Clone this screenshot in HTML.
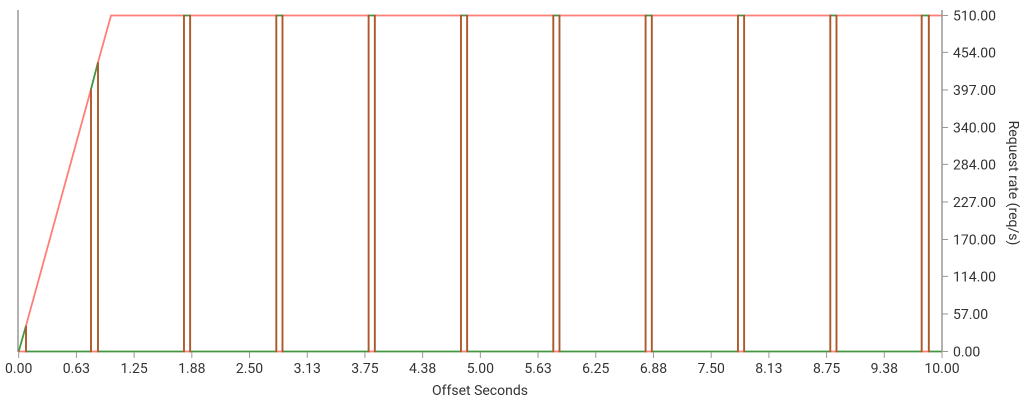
<!DOCTYPE html>
<html><head><meta charset="utf-8"><style>
body{margin:0;background:#fff;}
svg{display:block;font-family:"Roboto","Liberation Sans",sans-serif;}
</style></head><body>
<svg id="c" width="1024" height="400"></svg>
<script>
const xTicks=[0,0.625,1.25,1.875,2.5,3.125,3.75,4.375,5,5.625,6.25,6.875,7.5,8.125,8.75,9.375,10];
const xTickLabels=["0.00","0.63","1.25","1.88","2.50","3.13","3.75","4.38","5.00","5.63","6.25","6.88","7.50","8.13","8.75","9.38","10.00"];
const yTicks=[0,57,114,170,227,284,340,397,454,510];
const yTickLabels=["0.00","57.00","114.00","170.00","227.00","284.00","340.00","397.00","454.00","510.00"];
const redX=[0,0.079,0.079,0.783,0.783,0.859,0.859,1.0,1.79,1.79,1.857,1.857,2.79,2.79,2.857,2.857,3.79,3.79,3.857,3.857,4.79,4.79,4.857,4.857,5.79,5.79,5.857,5.857,6.79,6.79,6.857,6.857,7.79,7.79,7.857,7.857,8.79,8.79,8.857,8.857,9.78,9.78,9.857,9.857,10];
const redY=[0,0,39,398,0,0,439,510,510,0,0,510,510,0,0,510,510,0,0,510,510,0,0,510,510,0,0,510,510,0,0,510,510,0,0,510,510,0,0,510,510,0,0,510,510];
const greenX=[0,0.079,0.079,0.783,0.783,0.859,0.859,1.79,1.79,1.857,1.857,2.79,2.79,2.857,2.857,3.79,3.79,3.857,3.857,4.79,4.79,4.857,4.857,5.79,5.79,5.857,5.857,6.79,6.79,6.857,6.857,7.79,7.79,7.857,7.857,8.79,8.79,8.857,8.857,9.78,9.78,9.857,9.857,10];
const greenY=[0,39,0,0,398,439,0,0,510,510,0,0,510,510,0,0,510,510,0,0,510,510,0,0,510,510,0,0,510,510,0,0,510,510,0,0,510,510,0,0,510,510,0,0];
const X0=18.7,X1=942,Y0=351.5,Y1=15.5;
const sx=v=>X0+(v/10)*(X1-X0), sy=v=>Y0-(v/510)*(Y0-Y1);
const svg=document.getElementById('c');const NS='http://www.w3.org/2000/svg';
function mk(t,a,p){const e=document.createElementNS(NS,t);for(const k in a)e.setAttribute(k,a[k]);(p||svg).appendChild(e);return e;}
let e=mk('line',{x1:18,y1:10,x2:18,y2:352,stroke:'#999','stroke-width':1.5});


function series(xs,ys,color,name,op,w){
 const d=xs.map((x,i)=>(i?'L':'M')+sx(x).toFixed(2)+','+sy(ys[i]).toFixed(2)).join('');
 const p=mk('path',{d:d,fill:'none',stroke:color,'stroke-width':w,'stroke-opacity':op});
 
 
}
series(greenX,greenY,'#2e8b2e','received-rate-line',0.9,1.8);
series(redX,redY,'#ff2a1a','sent-rate-line',0.6,1.8);
e=mk('line',{x1:X1,y1:10,x2:X1,y2:352,stroke:'#999','stroke-width':1.5});


xTicks.forEach((v,i)=>{
 const t=mk('line',{x1:sx(v),y1:352,x2:sx(v),y2:358,stroke:'#999'});
 
 
 const l=mk('text',{x:sx(v),y:373,'text-anchor':'middle','font-size':14,fill:'#333'});
 l.textContent=xTickLabels[i];
 
 
});
yTicks.forEach((v,i)=>{
 const t=mk('line',{x1:X1,y1:sy(v),x2:X1+6,y2:sy(v),stroke:'#999'});
 
 
 const l=mk('text',{x:953,y:sy(v)+5,'font-size':14,fill:'#333'});
 l.textContent=yTickLabels[i];
 
 
});
e=mk('text',{x:480,y:395,'text-anchor':'middle','font-size':14,fill:'#333'});
e.textContent='Offset Seconds';


e=mk('text',{x:1009,y:183,'text-anchor':'middle','font-size':14,fill:'#333',transform:'rotate(90 1009 183)'});
e.textContent='Request rate (req/s)';


</script>
</body></html>
